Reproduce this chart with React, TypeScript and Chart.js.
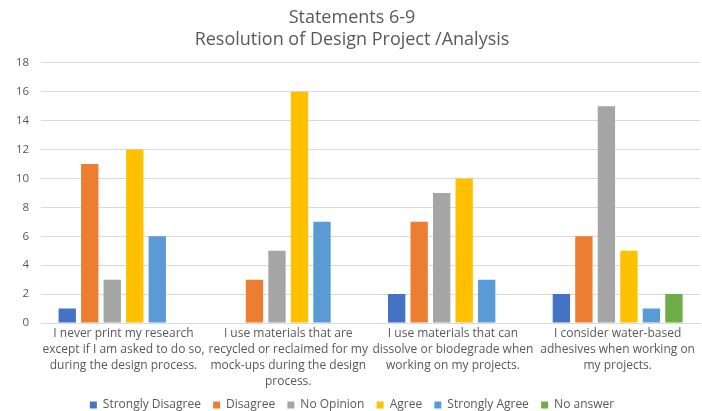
import React, { useEffect, useRef } from "react";
import { Chart, registerables } from "chart.js";

Chart.register(...registerables);

const categories: string[][] = [
  ["I never print my research", "except if I am asked to do so,", "during the design process."],
  ["I use materials that are", "recycled or reclaimed for my", "mock-ups during the design", "process."],
  ["I use materials that can", "dissolve or biodegrade when", "working on my projects."],
  ["I consider water-based", "adhesives when working on", "my projects."],
];

const stronglyDisagree = [1, 0, 2, 2];
const disagree = [11, 3, 7, 6];
const noOpinion = [3, 5, 9, 15];
const agree = [12, 16, 10, 5];
const stronglyAgree = [6, 7, 3, 1];
const noAnswer = [0, 0, 0, 2];

const seriesNames = ["Strongly Disagree", "Disagree", "No Opinion", "Agree", "Strongly Agree", "No answer"];
const seriesColors = ["#4472C4", "#ED7D31", "#A5A5A5", "#FFC000", "#5B9BD5", "#70AD47"];
const titleLines = ["Statements 6-9", "Resolution of Design Project /Analysis"];

export default function App() {
  const ref = useRef<HTMLCanvasElement>(null);
  useEffect(() => {
    document.body.style.margin = "0";
    const values = [stronglyDisagree, disagree, noOpinion, agree, stronglyAgree, noAnswer];
    const baseGen = Chart.defaults.plugins.legend.labels.generateLabels;
    const chart = new Chart(ref.current!, {
      type: "bar",
      data: {
        labels: categories,
        datasets: values.map((v, i) => ({
          label: seriesNames[i],
          data: v,
          backgroundColor: seriesColors[i],
          borderWidth: 0,
          barPercentage: 0.77,
          categoryPercentage: 0.82,
        })),
      },
      options: {
        animation: false,
        responsive: false,
        layout: { padding: { left: 4, right: 2, top: 0, bottom: -10 } },
        plugins: {
          title: {
            display: true,
            text: titleLines,
            color: "#595959",
            font: { family: "Open Sans", size: 18, weight: "normal", lineHeight: 1.22 },
            padding: { top: 7, bottom: 12 },
          },
          legend: {
            position: "bottom",
            labels: {
              color: "#595959",
              font: { family: "Open Sans", size: 12 },
              boxWidth: 7,
              boxHeight: 7,
              padding: 6,
              generateLabels: (c: any) =>
                baseGen(c).map((l: any, i: number, arr: any[]) => ({
                  ...l,
                  text: i < arr.length - 1 ? l.text + "  " : l.text,
                })),
            },
          },
          tooltip: { enabled: false },
        },
        scales: {
          x: {
            grid: { display: false, drawTicks: false },
            border: { color: "#d9d9d9" },
            ticks: {
              color: "#595959",
              font: { family: "Open Sans", size: 12, lineHeight: 1.333 },
              maxRotation: 0,
              autoSkip: false,
              padding: 3,
            },
          },
          y: {
            min: 0,
            max: 18,
            ticks: {
              stepSize: 2,
              color: "#595959",
              font: { family: "Open Sans", size: 11.5 },
              padding: 12,
            },
            grid: { color: "#d9d9d9", drawTicks: false },
            border: { display: false },
          },
        },
      },
    });
    return () => chart.destroy();
  }, []);
  return (
    <div style={{ width: 702, height: 411 }}>
      <canvas ref={ref} width={702} height={411} style={{ width: 702, height: 411 }} />
    </div>
  );
}
